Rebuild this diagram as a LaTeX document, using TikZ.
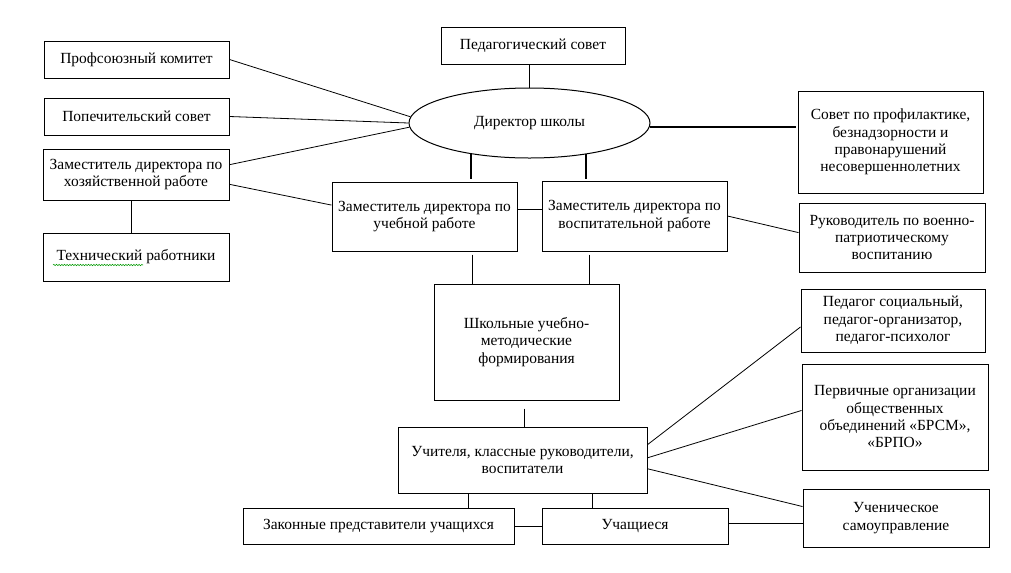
\documentclass[tikz,border=0pt]{standalone}
\usepackage{fontspec}
\setmainfont{Liberation Serif}
\usetikzlibrary{calc,shapes.geometric,decorations.pathmorphing}
\newcommand\bxnode[7][]{%
  \node[box,#1,minimum width={(#5-#3)*0.75pt},minimum height={(#6-#4)*0.75pt}]
    (#2) at ({(#3+#5)/2},{(#4+#6)/2}) {#7};}
\begin{document}
\begin{tikzpicture}[x=0.75pt,y=-0.75pt,
  box/.style={draw,line width=0.75pt,align=center,inner sep=0pt,font=\fontsize{11.6}{13}\selectfont},
  ln/.style={line width=0.6pt},
  heavy/.style={line width=1.7pt},
  spell/.style={draw=green!60!black,line width=0.4pt,decorate,decoration={snake,amplitude=0.5pt,segment length=2pt}}]
\useasboundingbox[fill=white] (0,0) rectangle (1011,572);

\bxnode{prof}{44}{41}{229}{78}{Профсоюзный комитет}
\bxnode{popech}{44}{98}{229}{135}{Попечительский совет}
\bxnode{hoz}{43}{149}{229}{200}{Заместитель директора по\\хозяйственной работе}
\bxnode{tech}{43}{233}{229}{281}{Технический работники}
\bxnode{ped}{441}{27}{625}{64}{Педагогический совет}
\node[draw,ellipse,line width=0.75pt,inner sep=0pt,minimum width=180.75pt,minimum height=52.5pt,
      font=\fontsize{11.6}{13}\selectfont] (dir) at (529.5,123) {Директор школы};
\bxnode{uch}{332}{182}{517}{251}{Заместитель директора по\\учебной работе}
\bxnode{vos}{542}{181}{727}{251}{Заместитель директора по\\воспитательной работе}
\bxnode{sov}{798}{91}{983}{193}{Совет по профилактике,\\безнадзорности и\\правонарушений\\несовершеннолетних}
\bxnode{ruk}{799}{203}{985}{272}{Руководитель по военно-\\патриотическому\\воспитанию}
\bxnode{shumf}{434}{284}{619}{400}{Школьные учебно-\\методические\\формирования}
\bxnode{psoc}{801}{289}{985}{352}{Педагог социальный,\\педагог-организатор,\\педагог-психолог}
\bxnode{perv}{802}{364}{988}{470}{Первичные организации\\общественных\\объединений «БРСМ»,\\«БРПО»}
\bxnode{uchit}{398}{427}{647}{493}{Учителя, классные руководители,\\воспитатели}
\bxnode{zak}{243}{508}{514}{544}{Законные представители учащихся}
\bxnode{uchsh}{542}{508}{728}{544}{Учащиеся}
\bxnode{samo}{803}{489}{989}{547}{Ученическое\\самоуправление}

% spell-check squiggle
\coordinate (sq1) at ($(tech.center)+(-83,8)$);
\coordinate (sq2) at ($(tech.center)+(7,8)$);
\draw[spell] (sq1) -- (sq2);

% connectors
\draw[ln] (prof.east) -- (dir.177);
\draw[ln] (popech.east) -- (dir.west);
\draw[ln] (hoz.6) -- (dir.182);
\draw[ln] (hoz.-6) -- (uch.173);
\coordinate (t1) at ($(hoz.south)+(-5,0)$);
\draw[ln] (t1) -- (t1 |- tech.north);
\draw[ln] (dir.north) -- (dir.north |- ped.south);
\coordinate (h1) at ($(dir.208 |- uch.north)+(0,-3)$);
\draw[heavy] (dir.208) -- (h1);
\coordinate (h2) at ($(dir.331 |- vos.north)+(0,-2)$);
\draw[heavy] (dir.331) -- (h2);
\coordinate (h3) at ($(dir.358 -| sov.west)+(-2,0)$);
\draw[heavy] (dir.358) -- (h3);
\coordinate (m1) at ($(uch.east)+(0,-7)$);
\draw[ln] (m1) -- (m1 -| vos.west);
\draw[ln] (vos.east) -- (ruk.177);
\coordinate (k1) at ($(uch.south)+(47.5,3)$);
\draw[ln] (k1) -- (k1 |- shumf.north);
\coordinate (k2) at ($(vos.south)+(-45.5,3)$);
\draw[ln] (k2) -- (k2 |- shumf.north);
\coordinate (k3) at ($(shumf.south)+(-2.5,8)$);
\draw[ln] (k3) -- (k3 |- uchit.north);
\coordinate (k4) at ($(uchit.south)+(-54.5,0)$);
\draw[ln] (k4) -- (k4 |- zak.north);
\coordinate (k5) at ($(uchit.south)+(69.5,0)$);
\draw[ln] (k5) -- (k5 |- uchsh.north);
\draw[ln] (zak.east) -- (uchsh.west);
\coordinate (k6) at ($(uchsh.east)+(0,-3)$);
\draw[ln] (k6) -- (k6 -| samo.west);
\draw[ln] (uchit.7) -- (psoc.184);
\draw[ln] (uchit.1) -- (perv.176);
\draw[ln] (uchit.-4) -- (samo.173);
\end{tikzpicture}
\end{document}
